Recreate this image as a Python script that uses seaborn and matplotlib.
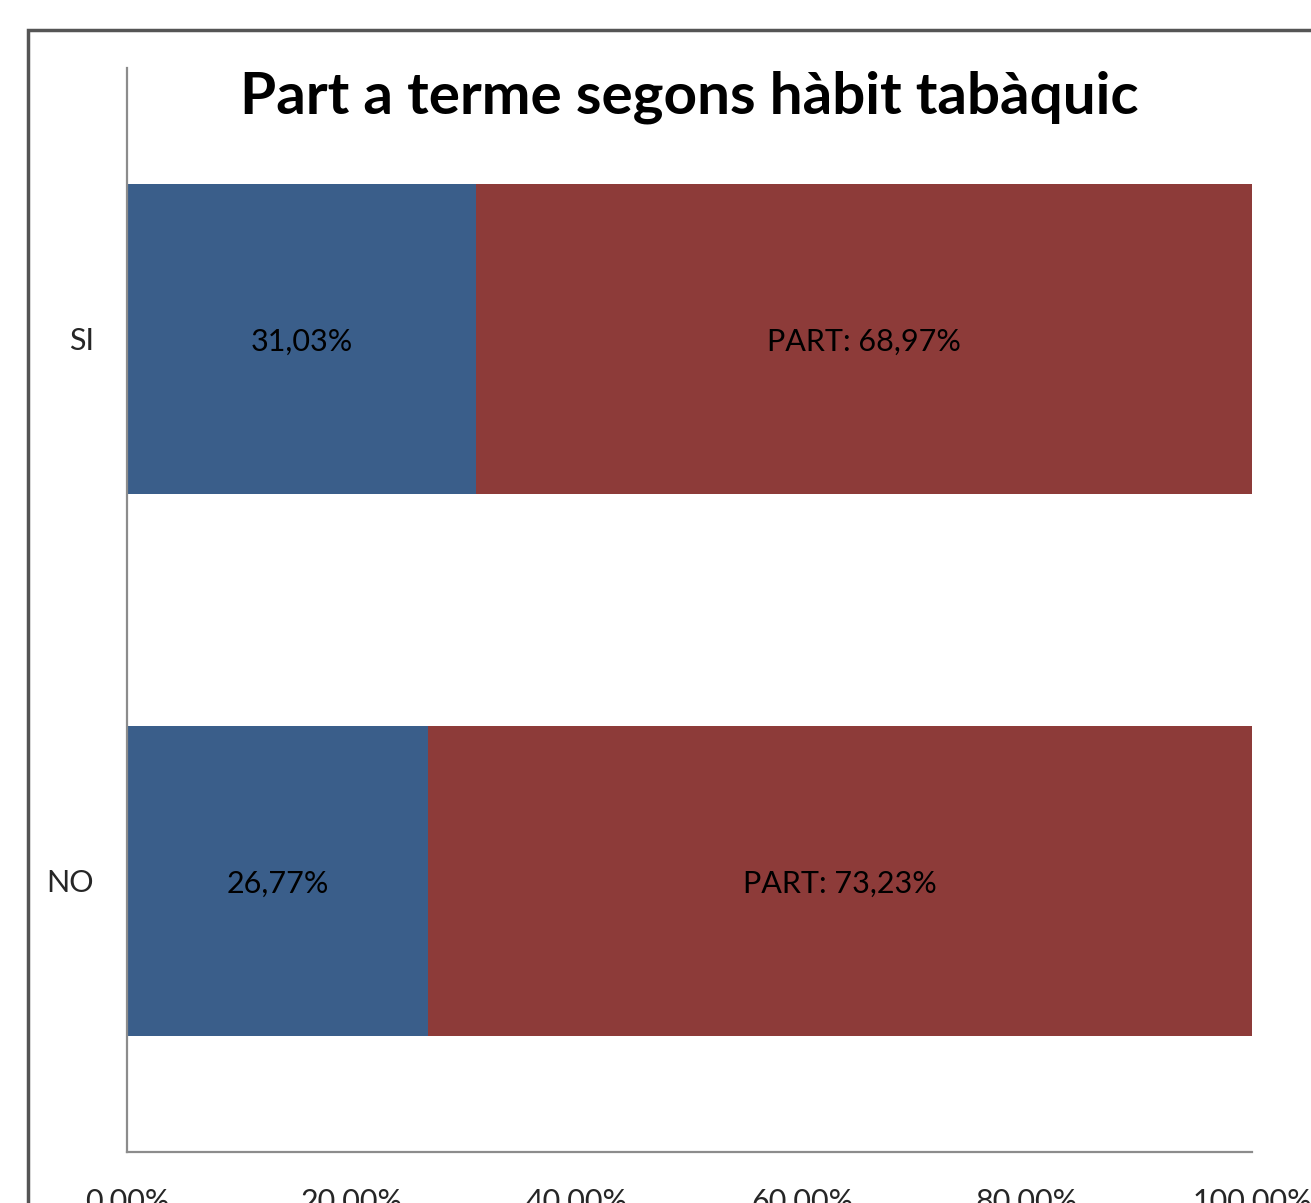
import matplotlib
matplotlib.use("Agg")
import matplotlib.pyplot as plt
import seaborn as sns
import pandas as pd
from matplotlib.patches import Rectangle

# ---- data ----
categories = ["SI", "NO"]
no_part_pct = [31.03, 26.77]
part_pct = [68.97, 73.23]
no_part_labels = ["31,03%", "26,77%"]
part_labels = ["PART: 68,97%", "PART: 73,23%"]
xtick_values = [0, 20, 40, 60, 80, 100]
xtick_labels = ["0,00%", "20,00%", "40,00%", "60,00%", "80,00%", "100,00%"]
title = "Part a terme segons hàbit tabàquic"

BLUE = "#3A5E8A"
RED = "#8D3B39"

sns.set_theme(style="white")
plt.rcParams["font.family"] = ["Lato", "DejaVu Sans"]

W, H = 1311, 1203
fig = plt.figure(figsize=(W / 100, H / 100), dpi=100)
fig.patch.set_facecolor("white")
ax = fig.add_axes([127 / W, 1 - 1152 / H, 1125 / W, 1084 / H])

df = pd.DataFrame({
    "cat": categories,
    "no": no_part_pct,
    "total": [a + b for a, b in zip(no_part_pct, part_pct)],
})

sns.barplot(data=df, y="cat", x="total", color=RED, saturation=1,
            width=0.572, ax=ax, order=categories, linewidth=0)
sns.barplot(data=df, y="cat", x="no", color=BLUE, saturation=1,
            width=0.572, ax=ax, order=categories, linewidth=0)

for i, (a, b) in enumerate(zip(no_part_pct, part_pct)):
    ax.text(a / 2, i + 0.005, no_part_labels[i], ha="center", va="center",
            fontsize=22, color="black")
    ax.text(a + b / 2, i + 0.005, part_labels[i], ha="center", va="center",
            fontsize=22, color="black")

ax.set_xlim(0, 100)
ax.set_ylim(1.5, -0.5)
ax.set_xticks(xtick_values)
ax.set_xticklabels(xtick_labels, fontsize=22)
ax.set_xlabel("")
ax.set_ylabel("")
ax.tick_params(axis="both", length=0)
ax.tick_params(axis="x", pad=26)
ax.tick_params(axis="y", pad=24, labelsize=22)

for s in ["top", "right"]:
    ax.spines[s].set_visible(False)
for s in ["left", "bottom"]:
    ax.spines[s].set_color("#8c8c8c")
    ax.spines[s].set_linewidth(1.6)

ax.text(0.5, (1152 - 113) / 1084, title, transform=ax.transAxes,
        ha="center", va="baseline", fontsize=42, fontweight="bold",
        color="black")

frame = Rectangle((28 / W, -0.2), 2, (1 - 30 / H) + 0.2,
                  transform=fig.transFigure, fill=False,
                  edgecolor="#555555", linewidth=2.5, clip_on=False)
fig.patches.append(frame)

fig.savefig("out.png", dpi=100)
